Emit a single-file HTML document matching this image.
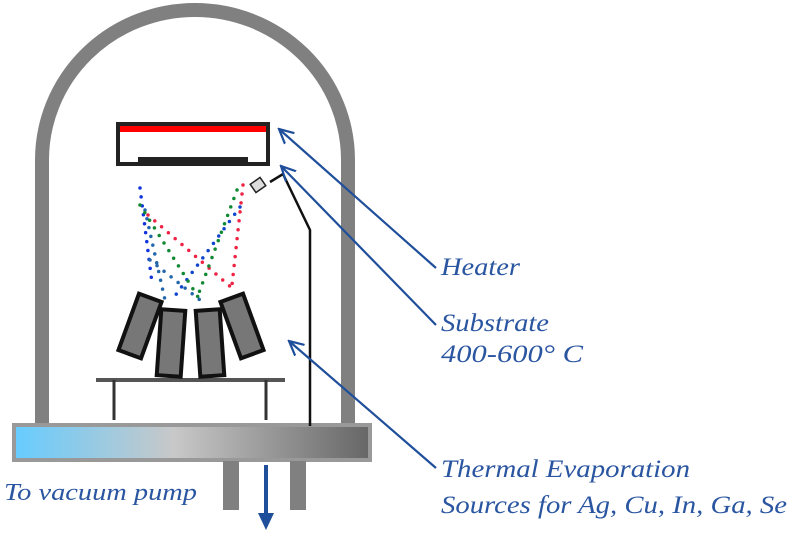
<!DOCTYPE html>
<html><head><meta charset="utf-8"><style>
html,body{margin:0;padding:0;background:#fff;}
svg{display:block}
text{font-family:"Liberation Serif",serif;font-style:italic;fill:#2a55a0;font-size:25px}
</style></head><body>
<svg width="789" height="533" viewBox="0 0 789 533">
<defs>
<linearGradient id="g" x1="0" x2="1">
<stop offset="0" stop-color="#66ccff"/>
<stop offset="0.45" stop-color="#c8c8c8"/>
<stop offset="1" stop-color="#666"/>
</linearGradient>
<marker id="ah" viewBox="0 0 10 10" refX="9" refY="5" markerWidth="16" markerHeight="16" markerUnits="userSpaceOnUse" orient="auto">
<path d="M0,0.5 L9,5 L0,9.5" fill="none" stroke="#1f4e9a" stroke-width="1.4"/>
</marker>
</defs>
<path d="M42,428 L42,160 A153,150 0 0 1 348,160 L348,428" fill="none" stroke="#808080" stroke-width="14"/>
<rect x="14" y="425" width="356" height="35" fill="url(#g)" stroke="#999" stroke-width="4"/>
<rect x="223" y="461" width="16" height="49" fill="#808080"/>
<rect x="290" y="461" width="16" height="49" fill="#808080"/>
<line x1="266" y1="465" x2="266" y2="518" stroke="#1f4e9a" stroke-width="4"/>
<path d="M258,513 L266,530 L274,513 Z" fill="#1f4e9a"/>
<rect x="118" y="124" width="150" height="40" fill="#fff" stroke="#222" stroke-width="4"/>
<rect x="120" y="126" width="146" height="6" fill="#f00"/>
<rect x="138" y="157" width="110" height="6" fill="#222"/>
<polyline points="270,182 283,174 310,230 310,426" fill="none" stroke="#111" stroke-width="2.5"/>
<rect x="252" y="180" width="12" height="10" fill="#ddd" stroke="#222" stroke-width="1.5" transform="rotate(-35 258 185)"/>
<line x1="96" y1="380" x2="285" y2="380" stroke="#555" stroke-width="4"/>
<line x1="114" y1="380" x2="114" y2="420" stroke="#333" stroke-width="3"/>
<line x1="266" y1="380" x2="266" y2="420" stroke="#333" stroke-width="3"/>
<g fill="#777" stroke="#111" stroke-width="4">
<rect x="-12" y="-30" width="24" height="60" transform="translate(140 326) rotate(20)"/>
<rect x="-12" y="-33" width="24" height="66" transform="translate(171 343) rotate(4)"/>
<rect x="-12" y="-33" width="24" height="66" transform="translate(210 343) rotate(-4)"/>
<rect x="-12" y="-30" width="24" height="60" transform="translate(242 326) rotate(-20)"/>
</g>
<g fill="none" stroke-width="3.5" stroke-linecap="round" stroke-dasharray="0 9">
<path d="M140,188 L152,283" stroke="#1133dd"/>
<path d="M240,207 L172,300" stroke="#1144cc"/>
<path d="M145,210 L165,300" stroke="#2266aa"/>
<path d="M148,215 L232,288" stroke="#ee2244"/>
<path d="M243,185 L232,285" stroke="#ee2244"/>
<path d="M140,205 L200,300" stroke="#118833"/>
<path d="M237,190 L197,298" stroke="#118833"/>
<path d="M150,260 L200,300" stroke="#2266aa"/>
</g>
<g stroke="#1f4e9a" stroke-width="2.2" fill="none">
<line x1="436" y1="268" x2="279" y2="129" marker-end="url(#ah)"/>
<line x1="436" y1="325" x2="281" y2="166" marker-end="url(#ah)"/>
<line x1="436" y1="468" x2="289" y2="341" marker-end="url(#ah)"/>
</g>
<text x="441" y="275" textLength="79" lengthAdjust="spacingAndGlyphs">Heater</text>
<text x="441" y="331" textLength="108" lengthAdjust="spacingAndGlyphs">Substrate</text>
<text x="441" y="362" textLength="142" lengthAdjust="spacingAndGlyphs">400-600° C</text>
<text x="441" y="477" textLength="249" lengthAdjust="spacingAndGlyphs">Thermal Evaporation</text>
<text x="441" y="513" textLength="346" lengthAdjust="spacingAndGlyphs">Sources for Ag, Cu, In, Ga, Se</text>
<text x="4" y="500" textLength="193" lengthAdjust="spacingAndGlyphs" style="font-size:24px">To vacuum pump</text>
</svg>
</body></html>
